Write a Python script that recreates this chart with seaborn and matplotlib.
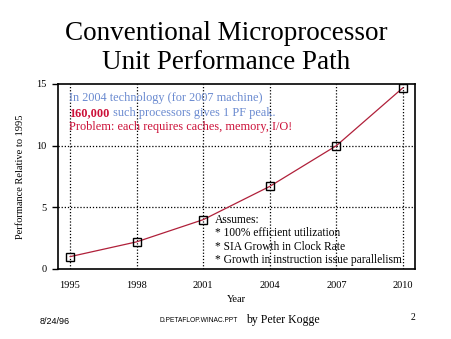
import matplotlib
matplotlib.use("Agg")
import matplotlib.pyplot as plt
import seaborn as sns
import pandas as pd

years = [1995, 1998, 2001, 2004, 2007, 2010]
perf = [1.0, 2.2, 4.0, 6.7, 10.0, 14.7]
yticks = [0, 5, 10, 15]

title = "Conventional Microprocessor\nUnit Performance Path"
note1 = "In 2004 technology (for 2007 machine)"
note2a = "160,000"
note2b = " such processors gives 1 PF peak."
note3 = "Problem: each requires caches, memory, I/O!"
assumes = ["Assumes:", "* 100% efficient utilization", "* SIA Growth in Clock Rate",
           "* Growth in instruction issue parallelism"]

sns.set_style("white")
plt.rcParams['font.family'] = ['Liberation Serif', 'DejaVu Serif']
plt.rcParams['text.color'] = 'black'
plt.rcParams['axes.labelcolor'] = 'black'
plt.rcParams['xtick.color'] = 'black'
plt.rcParams['ytick.color'] = 'black'

df = pd.DataFrame({"Year": years, "Perf": perf})

fig = plt.figure(figsize=(4.52, 3.39), dpi=100)
ax = fig.add_axes([58/452, 70/339, 357/452, 185/339])

sns.lineplot(data=df, x="Year", y="Perf", ax=ax, color="#b0203a", linewidth=0.9,
             marker="s", markersize=5.5, markerfacecolor="none",
             markeredgecolor="black", markeredgewidth=1.0)

ax.set_xlim(1994.46, 2010.54)
ax.set_ylim(0, 15)
ax.set_xticks(years)
ax.set_xticklabels([str(y) for y in years], fontsize=7.5)
ax.set_yticks(yticks)
ax.set_yticklabels([str(v) for v in yticks], fontsize=7.5)
ax.tick_params(axis='x', length=0, pad=9)
ax.tick_params(axis='y', length=4, width=1, direction='out', pad=4, left=True)

for y in years:
    ax.axvline(y, color="black", linestyle=(0, (1, 1.5)), linewidth=0.9, zorder=0)
for v in [5, 10]:
    ax.axhline(v, color="black", linestyle=(0, (1, 1.5)), linewidth=0.9, zorder=0)

for s in ax.spines.values():
    s.set_color("black")
    s.set_linewidth(1.2)

ax.set_xlabel("Year", fontsize=7.5, labelpad=3)
ax.set_ylabel("Performance Relative to 1995", fontsize=7.5, labelpad=8)

blue = "#6a8ad0"
red = "#cc1038"
fsz = 8.8
ax.text(0.032, 0.925, note1, transform=ax.transAxes, color=blue, fontsize=fsz, va='center')
t2 = ax.text(0.032, 0.845, note2a, transform=ax.transAxes, color=red, fontsize=fsz,
             fontweight='bold', va='center')
ax.annotate(note2b, xy=(1, 0.5), xycoords=t2, color=blue, fontsize=fsz, va='center')
ax.text(0.032, 0.768, note3, transform=ax.transAxes, color=red, fontsize=fsz, va='center')

ys = [0.265, 0.193, 0.118, 0.046]
for line, yy in zip(assumes, ys):
    ax.text(0.44, yy, line, transform=ax.transAxes, color="black", fontsize=8.3, va='center')

fig.text(0.5, 1 - 48/339, title, ha='center', va='center', fontsize=19.5,
         linespacing=1.25, color='black')

fig.text(40/452, 1 - 321/339, "8/24/96", fontsize=6.5, va='center', ha='left',
         family=['Liberation Sans', 'DejaVu Sans'])
fig.text(160/452, 1 - 321/339, "D.PETAFLOP.WINAC.PPT", fontsize=4.8, va='center',
         ha='left', family=['Liberation Sans', 'DejaVu Sans'])
fig.text(246/452, 1 - 320/339, "by Peter Kogge", fontsize=8.5, va='center', ha='left')
fig.text(413/452, 1 - 318/339, "2", fontsize=7, va='center', ha='center')

fig.savefig("out.png", dpi=100)
